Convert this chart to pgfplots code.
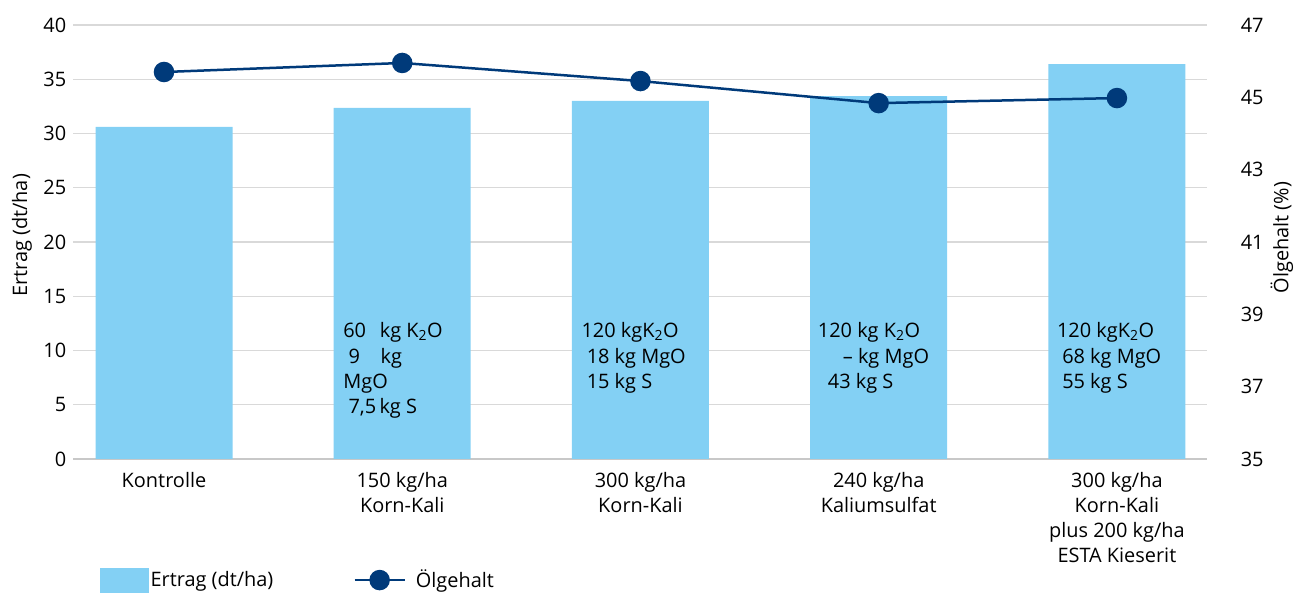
\documentclass[border=0pt]{standalone}
\usepackage{fontspec}
\setmainfont{Open Sans}
\usepackage{pgfplots}
\pgfplotsset{compat=1.18}
\definecolor{barblue}{RGB}{131,208,244}
\definecolor{lineblue}{RGB}{0,58,122}
\definecolor{gridgray}{RGB}{217,217,217}
\definecolor{axisgray}{RGB}{200,200,200}
\newcommand{\fs}{\fontsize{20}{24}\selectfont}
\begin{document}
\fs
\begin{tikzpicture}
\useasboundingbox (0bp,0bp) rectangle (1299bp,595bp);
\begin{axis}[
  at={(73bp,136bp)}, anchor=south west, scale only axis,
  width=1134bp, height=434bp,
  xmin=-0.382, xmax=4.378, ymin=0, ymax=40,
  ytick={0,5,...,40},
  ybar, bar width=137bp,
  axis x line*=bottom, axis y line*=left,
  y axis line style={draw=none},
  x axis line style={draw=axisgray, line width=1.5bp},
  major tick length=0,
  ymajorgrids, grid style={draw=gridgray, line width=1.2bp},
  xtick={0,1,2,3,4},
  xticklabels={Kontrolle,{150 kg/ha\\Korn-Kali},{300 kg/ha\\Korn-Kali},{240 kg/ha\\Kaliumsulfat},{300 kg/ha\\Korn-Kali\\plus 200 kg/ha\\ESTA Kieserit}},
  xticklabel style={align=center, font=\fontsize{20}{25}\selectfont, yshift=-7bp},
  yticklabel style={font=\fs},
  /pgf/number format/assume math mode=true,
  ylabel={Ertrag (dt/ha)},
  ylabel style={at={(axis description cs:-0.045,0.515)}, anchor=center, font=\fs},
]
\addplot[fill=barblue, draw=none] coordinates {(0,30.6) (1,32.35) (2,33.0) (3,33.45) (4,36.4)};
\node[anchor=north west, align=left, inner sep=0, font=\fontsize{20}{25.5}\selectfont] at (axis cs:0.752,12.6)
  {60\ \ \,kg K\textsubscript{2}O\\\ 9\ \ \ \ kg\\MgO\\\ 7,5\,kg S};
\node[anchor=north west, align=left, inner sep=0, font=\fontsize{20}{25.5}\selectfont] at (axis cs:1.752,12.6)
  {120 kgK\textsubscript{2}O\\\ 18 kg\ MgO\\\ 15 kg\ S};
\node[anchor=north west, align=left, inner sep=0, font=\fontsize{20}{25.5}\selectfont] at (axis cs:2.744,12.6)
  {120 kg\ K\textsubscript{2}O\\\hspace*{25bp}-- kg\ MgO\\\hspace*{10bp}43 kg\ S};
\node[anchor=north west, align=left, inner sep=0, font=\fontsize{20}{25.5}\selectfont] at (axis cs:3.748,12.6)
  {120 kgK\textsubscript{2}O\\\ 68 kg\ MgO\\\ 55 kg\ S};
\end{axis}
\begin{axis}[
  at={(73bp,136bp)}, anchor=south west, scale only axis,
  width=1134bp, height=434bp,
  xmin=-0.382, xmax=4.378, ymin=35, ymax=47,
  ytick={35,37,...,47},
  axis x line=none, axis y line*=right,
  y axis line style={draw=none},
  major tick length=0,
  yticklabel style={font=\fs, xshift=27bp},
  /pgf/number format/assume math mode=true,
  ylabel={Ölgehalt (\%)},
  ylabel style={at={(axis description cs:1.066,0.51)}, anchor=center, font=\fs},
  legend style={draw=none, fill=none, at={(axis description cs:0.0238,-0.279)}, anchor=west,
    legend columns=2, inner xsep=0, font=\fs,
    /tikz/every even column/.append style={column sep=78bp}},
  legend cell align=left,
]
\addlegendimage{legend image code/.code={\fill[barblue] (0bp,-12bp) rectangle (48bp,12bp);}}
\addlegendentry{Ertrag (dt/ha)}
\addplot[draw=lineblue, line width=2.5bp, mark=*, mark size=9bp, mark options={fill=lineblue, draw=lineblue},
  legend image code/.code={\draw[lineblue,line width=2.5bp] (0bp,0bp)--(50bp,0bp); \fill[lineblue] (25bp,0bp) circle (9bp);}]
  coordinates {(0,45.70) (1,45.95) (2,45.45) (3,44.84) (4,44.98)};
\addlegendentry{\hspace*{8bp}Ölgehalt}
\end{axis}
\end{tikzpicture}
\end{document}
